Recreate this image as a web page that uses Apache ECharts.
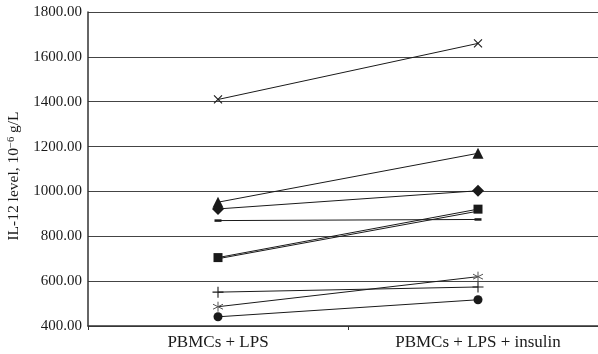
<!DOCTYPE html>
<html>
<head>
<meta charset="utf-8">
<script src="https://cdn.jsdelivr.net/npm/echarts@6/dist/echarts.min.js"></script>
<style>
html, body { margin: 0; padding: 0; background: #fff; }
#chart { width: 598px; height: 354px; }
</style>
</head>
<body>
<div id="chart"></div>
<script>
// conditions on the x axis
const categories = ['PBMCs + LPS', 'PBMCs + LPS + insulin'];
const yTicks = [400, 1800, 200];

// one pair of values per subject (LPS, LPS + insulin)
const crossVals = [1410, 1660];
const triangleVals = [952, 1170];
const diamondVals = [922, 1003];
const dashVals = [870, 875];
const squareVals = [705, 921];
const squareTwinVals = [700, 912];
const plusVals = [551, 574];
const starVals = [486, 620];
const circleVals = [441, 517];

const ink = '#1a1a1a';
const serif = '"Liberation Serif", "DejaVu Serif", serif';

const strokeMarker = { color: 'rgba(0,0,0,0)', borderColor: ink, borderWidth: 1.1 };
const solidMarker = { color: ink, borderColor: ink, borderWidth: 0 };

function mk(name, data, symbol, size, style) {
    return {
        name: name,
        type: 'line',
        data: data,
        symbol: symbol,
        symbolSize: size,
        showAllSymbol: true,
        lineStyle: { color: ink, width: 1 },
        itemStyle: style,
        emphasis: { disabled: true },
        animation: false,
        z: 3
    };
}

const series = [
    mk('cross', crossVals, 'path://M0,0L10,10M10,0L0,10', 8, strokeMarker),
    mk('triangle', triangleVals, 'triangle', 11, solidMarker),
    mk('diamond', diamondVals, 'diamond', 12, solidMarker),
    mk('dash', dashVals, 'rect', [7, 2.5], solidMarker),
    mk('square', squareVals, 'rect', 9, solidMarker),
    mk('square2', squareTwinVals, 'none', 0, solidMarker),
    mk('plus', plusVals, 'path://M5,0L5,10M0,5L10,5', 11, strokeMarker),
    mk('star', starVals, 'path://M5,0L5,10M0,2.5L10,7.5M0,7.5L10,2.5', 10, { color: 'rgba(0,0,0,0)', borderColor: '#555', borderWidth: 1 }),
    mk('circle', circleVals, 'circle', 9, solidMarker)
];

const chart = echarts.init(document.getElementById('chart'), null, { renderer: 'canvas' });
chart.setOption({
    animation: false,
    // plot runs past the right edge of the picture, as in the original
    grid: { left: 88, width: 520, top: 12, bottom: 28, outerBoundsMode: 'none', containLabel: false },
    xAxis: {
        type: 'category',
        data: categories,
        boundaryGap: true,
        axisLine: { lineStyle: { color: '#333', width: 1.5 } },
        axisTick: { show: true, length: 4, lineStyle: { color: '#333' } },
        axisLabel: { color: ink, fontFamily: serif, fontSize: 17, margin: 8 },
        splitLine: { show: false }
    },
    yAxis: {
        type: 'value',
        min: yTicks[0],
        max: yTicks[1],
        interval: yTicks[2],
        name: '{a|IL-12 level, 10}{s|−6}{a| g/L}',
        nameLocation: 'middle',
        nameGap: 60,
        nameTextStyle: {
            padding: [0, 14, 0, 0],
            rich: {
                a: { fontFamily: serif, fontSize: 15.5, color: ink },
                s: { fontFamily: serif, fontSize: 10.5, color: ink, verticalAlign: 'top', padding: [0, 0, 7, 0] }
            }
        },
        axisLine: { show: true, lineStyle: { color: '#333', width: 1.5 } },
        axisTick: { show: false },
        axisLabel: {
            color: ink, fontFamily: serif, fontSize: 15, margin: 6,
            formatter: v => v.toFixed(2)
        },
        splitLine: { show: true, lineStyle: { color: '#444', width: 1 } }
    },
    series: series
});
</script>
</body>
</html>
